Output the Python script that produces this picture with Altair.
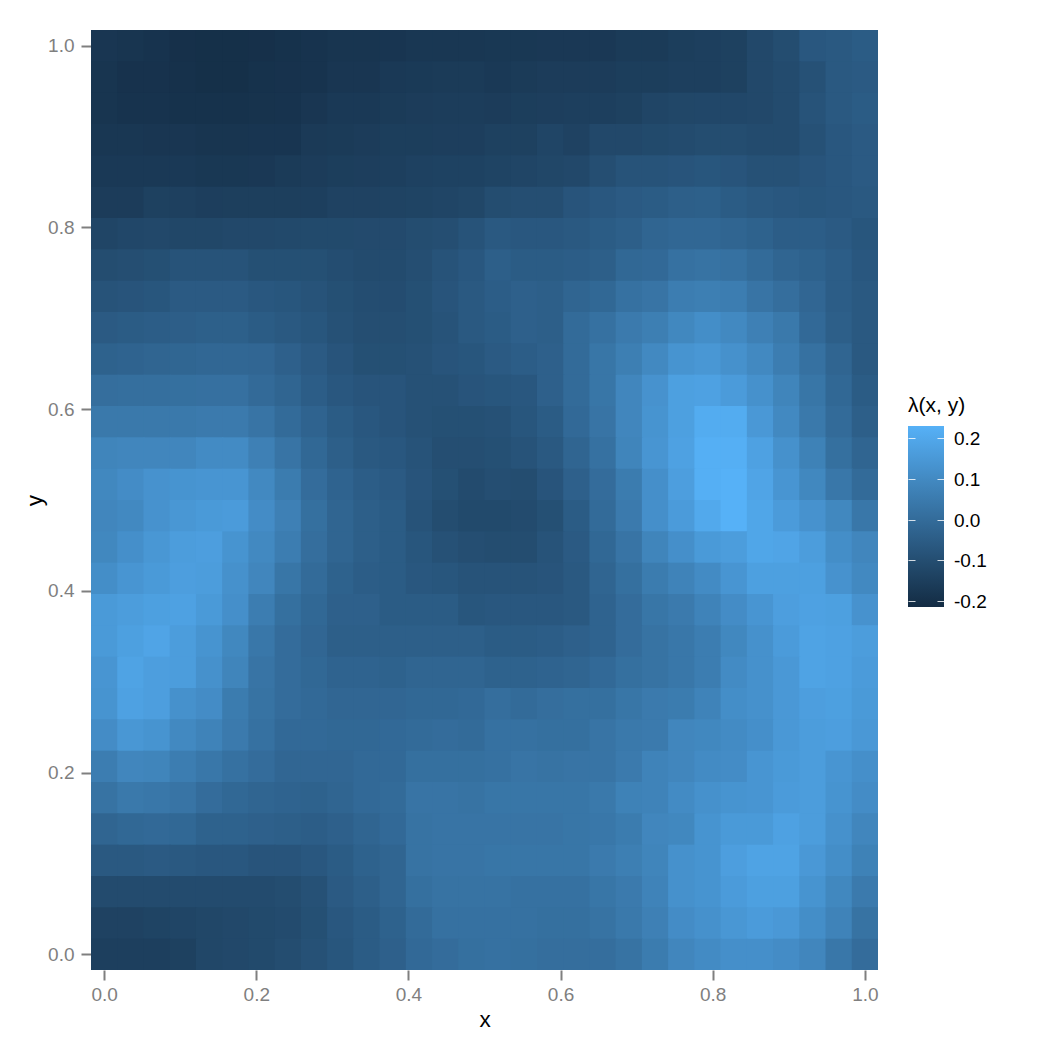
import altair as alt
import pandas as pd

# rows run from y=1 (top) to y=0 (bottom); columns from x=0 to x=1
row_00 = [-.175,-.18,-.185,-.195,-.197,-.197,-.195,-.19,-.185,-.18,-.18,-.178,-.172,-.172,-.172,-.17,-.17,-.168,-.168,-.168,-.16,-.16,-.15,-.145,-.14,-.115,-.1,-.065,-.06,-.05]
row_01 = [-.18,-.188,-.188,-.192,-.197,-.197,-.19,-.188,-.185,-.175,-.175,-.165,-.163,-.16,-.16,-.165,-.16,-.155,-.155,-.155,-.15,-.15,-.145,-.145,-.14,-.115,-.105,-.085,-.06,-.055]
row_02 = [-.18,-.185,-.185,-.19,-.19,-.19,-.187,-.185,-.175,-.165,-.165,-.16,-.155,-.153,-.153,-.155,-.15,-.148,-.145,-.145,-.14,-.125,-.12,-.118,-.118,-.115,-.105,-.08,-.06,-.05]
row_03 = [-.172,-.172,-.175,-.175,-.18,-.18,-.178,-.178,-.162,-.16,-.155,-.15,-.15,-.148,-.148,-.14,-.14,-.125,-.135,-.115,-.115,-.11,-.105,-.1,-.1,-.105,-.105,-.085,-.065,-.055]
row_04 = [-.165,-.165,-.165,-.165,-.17,-.17,-.168,-.16,-.155,-.15,-.148,-.146,-.138,-.136,-.136,-.13,-.125,-.12,-.115,-.095,-.08,-.08,-.075,-.07,-.075,-.085,-.085,-.075,-.065,-.055]
row_05 = [-.155,-.155,-.14,-.142,-.148,-.147,-.147,-.147,-.145,-.135,-.135,-.133,-.13,-.125,-.12,-.1,-.095,-.095,-.075,-.065,-.055,-.05,-.04,-.038,-.05,-.06,-.065,-.07,-.065,-.06]
row_06 = [-.125,-.118,-.115,-.12,-.12,-.115,-.115,-.113,-.11,-.11,-.108,-.108,-.1,-.095,-.08,-.06,-.065,-.065,-.06,-.05,-.04,-.02,-.012,-.012,-.02,-.03,-.045,-.045,-.055,-.07]
row_07 = [-.1,-.095,-.09,-.08,-.08,-.08,-.09,-.09,-.09,-.098,-.105,-.105,-.095,-.08,-.065,-.04,-.05,-.05,-.045,-.04,-.01,-.005,.02,.025,.02,.0,-.02,-.03,-.045,-.065]
row_08 = [-.08,-.075,-.07,-.055,-.055,-.055,-.065,-.07,-.08,-.09,-.098,-.102,-.09,-.075,-.06,-.045,-.035,-.04,-.02,-.01,.02,.03,.06,.065,.06,.03,.01,-.015,-.045,-.06]
row_09 = [-.055,-.05,-.045,-.042,-.038,-.038,-.05,-.06,-.07,-.085,-.095,-.095,-.09,-.08,-.06,-.05,-.035,-.04,.0,.02,.05,.065,.095,.115,.1,.07,.045,-.005,-.04,-.06]
row_10 = [-.03,-.025,-.02,-.018,-.012,-.012,-.015,-.035,-.055,-.075,-.09,-.09,-.085,-.075,-.07,-.055,-.045,-.035,.0,.035,.065,.1,.135,.145,.125,.1,.06,.02,-.02,-.06]
row_11 = [.01,.012,.012,.015,.018,.018,-.002,-.02,-.045,-.065,-.075,-.075,-.085,-.085,-.075,-.07,-.065,-.035,.0,.035,.09,.13,.175,.18,.16,.125,.085,.035,-.01,-.05]
row_12 = [.045,.045,.045,.045,.05,.05,.03,.0,-.025,-.05,-.065,-.075,-.085,-.09,-.09,-.085,-.07,-.05,-.005,.03,.09,.135,.175,.215,.215,.15,.1,.045,.0,-.04]
row_13 = [.085,.09,.09,.09,.105,.105,.07,.03,-.01,-.04,-.06,-.065,-.08,-.095,-.095,-.09,-.08,-.06,-.02,.02,.085,.14,.18,.225,.225,.18,.125,.075,.015,-.02]
row_14 = [.095,.11,.13,.135,.14,.14,.1,.055,.005,-.025,-.045,-.055,-.075,-.09,-.105,-.095,-.1,-.075,-.035,.005,.055,.12,.17,.225,.232,.19,.14,.095,.04,.0]
row_15 = [.09,.1,.13,.145,.155,.16,.11,.07,.015,-.02,-.04,-.05,-.08,-.1,-.11,-.11,-.105,-.09,-.05,.0,.05,.12,.16,.205,.232,.195,.16,.13,.095,.04]
row_16 = [.095,.12,.145,.165,.17,.135,.1,.06,.01,-.02,-.04,-.05,-.07,-.085,-.095,-.1,-.1,-.08,-.055,-.01,.03,.085,.12,.155,.165,.195,.19,.165,.115,.09]
row_17 = [.115,.14,.155,.17,.165,.125,.09,.035,.0,-.03,-.045,-.05,-.065,-.07,-.08,-.08,-.08,-.075,-.06,-.02,.015,.055,.08,.105,.14,.175,.175,.175,.13,.1]
row_18 = [.155,.165,.175,.18,.155,.12,.06,.015,-.01,-.035,-.035,-.05,-.05,-.05,-.07,-.065,-.065,-.065,-.06,-.025,.005,.035,.05,.08,.11,.14,.17,.18,.175,.13]
row_19 = [.155,.175,.19,.165,.135,.095,.04,.005,-.015,-.04,-.04,-.04,-.04,-.04,-.04,-.05,-.05,-.045,-.035,-.025,.005,.025,.04,.06,.095,.125,.16,.185,.18,.165]
row_20 = [.14,.185,.17,.165,.125,.085,.03,.005,-.01,-.025,-.025,-.03,-.02,-.02,-.02,-.03,-.03,-.025,-.02,-.005,.015,.025,.04,.06,.105,.125,.15,.185,.18,.16]
row_21 = [.135,.18,.17,.125,.11,.055,.025,.005,-.005,-.015,-.015,-.015,-.01,-.01,-.005,.01,.0,.01,.015,.015,.035,.05,.055,.08,.115,.125,.15,.17,.175,.155]
row_22 = [.11,.145,.135,.1,.08,.05,.02,-.005,-.005,-.01,-.01,-.005,.0,.005,.0,.02,.02,.015,.015,.03,.045,.05,.09,.095,.105,.12,.15,.165,.17,.15]
row_23 = [.06,.09,.085,.06,.04,.02,.005,-.015,-.015,-.015,-.005,-.005,.015,.015,.015,.02,.03,.025,.03,.03,.05,.08,.09,.105,.11,.14,.155,.165,.14,.12]
row_24 = [.025,.045,.04,.03,.005,-.01,-.02,-.025,-.03,-.02,-.005,.0,.03,.03,.025,.035,.035,.035,.035,.045,.075,.08,.105,.125,.135,.14,.16,.165,.135,.11]
row_25 = [-.02,-.01,-.005,-.01,-.03,-.03,-.035,-.04,-.045,-.035,-.02,-.005,.025,.03,.03,.03,.03,.03,.035,.04,.055,.09,.095,.135,.155,.155,.18,.165,.125,.09]
row_26 = [-.06,-.06,-.055,-.06,-.065,-.065,-.075,-.075,-.065,-.05,-.03,-.02,.025,.03,.03,.035,.035,.035,.035,.05,.065,.085,.125,.135,.17,.185,.185,.15,.115,.075]
row_27 = [-.105,-.105,-.105,-.105,-.105,-.105,-.105,-.1,-.085,-.055,-.04,-.02,.015,.025,.025,.025,.02,.02,.02,.035,.05,.08,.125,.135,.16,.175,.175,.135,.095,.05]
row_28 = [-.135,-.135,-.13,-.125,-.12,-.115,-.11,-.105,-.09,-.065,-.05,-.03,.0,.02,.02,.02,.02,.015,.015,.025,.045,.07,.11,.125,.145,.16,.15,.115,.08,.025]
row_29 = [-.145,-.145,-.145,-.14,-.12,-.115,-.11,-.1,-.085,-.07,-.05,-.035,-.005,.005,.015,.02,.015,.01,.01,.01,.025,.055,.09,.105,.12,.12,.11,.09,.04,.005]

rows = [row_00,row_01,row_02,row_03,row_04,row_05,row_06,row_07,row_08,row_09,
        row_10,row_11,row_12,row_13,row_14,row_15,row_16,row_17,row_18,row_19,
        row_20,row_21,row_22,row_23,row_24,row_25,row_26,row_27,row_28,row_29]
legend_values = [-0.2, -0.1, 0.0, 0.1, 0.2]
n = 30
half = 0.5 / (n - 1)
seam = 0.0016  # cells overlap by just over a pixel so that no antialiased seam shows
records = []
for r, row in enumerate(rows):
    yc = 1 - r / (n - 1)
    for c, v in enumerate(row):
        xc = c / (n - 1)
        records.append({"x0": xc - half, "x1": xc + half + seam,
                        "y0": yc - half - seam, "y1": yc + half, "v": v})
df = pd.DataFrame(records)
ticks = pd.DataFrame({"t": legend_values})

GRAY = "#7F7F7F"
FONT = "Liberation Sans"
dom = [-half, 1 + half]
color_scale = alt.Scale(domain=[-0.212, 0.232], range=["#132B43", "#56B1F7"],
                        interpolate="rgb", nice=False)
color = alt.Color("v:Q", scale=color_scale,
    legend=alt.Legend(title="λ(x, y)", orient="none", legendX=817, legendY=365,
                      values=legend_values, gradientLength=181, gradientThickness=36,
                      gradientStrokeWidth=0, format=".1f", labelOverlap=False, type="gradient",
                      labelExpr="replace(datum.label, '−', '-')",
                      labelFontSize=19, labelColor="#000000", labelFont=FONT, labelOffset=10,
                      titleFontSize=21, titleFontWeight="normal", titleColor="#000000",
                      titleFont=FONT, titlePadding=10))
axis = dict(grid=False, domain=False, tickColor=GRAY, tickSize=10, tickWidth=2,
            labelColor=GRAY, labelFontSize=19, labelFont=FONT, titleColor="#000000",
            titleFontSize=22.5, titleFontWeight="normal", titleFont=FONT,
            format=".1f", values=[0, .2, .4, .6, .8, 1.0])

heat = alt.Chart(df).mark_rect(clip=True).encode(
    x=alt.X("x0:Q", scale=alt.Scale(domain=dom, nice=False, zero=False),
            axis=alt.Axis(title="x", labelPadding=5, titlePadding=4, **axis)),
    x2="x1:Q",
    y=alt.Y("y0:Q", scale=alt.Scale(domain=dom, nice=False, zero=False),
            axis=alt.Axis(title="y", labelPadding=7, titlePadding=1, orient="left", **axis)),
    y2="y1:Q",
    color=color,
)

def legend_ticks(orient, offset):
    # the colourbar's white ticks: an axis with a zindex draws above the legend
    return alt.Chart(ticks).mark_rule(opacity=0).encode(
        x=alt.value(0),
        y=alt.Y("t:Q",
                scale=alt.Scale(domain=[-0.212, 0.232], range=[576, 395], nice=False, zero=False),
                axis=alt.Axis(title=None, orient=orient, offset=offset, labels=False, domain=False,
                              grid=False, values=legend_values, tickColor="#FFFFFF", tickOpacity=0.8,
                              tickSize=7, tickWidth=1, zindex=2)),
    )

chart = alt.layer(heat, legend_ticks("left", -824), legend_ticks("right", 59)).resolve_scale(
    y="independent"
).properties(
    width=787, height=940,
    padding={"left": 83, "top": 22, "right": 140, "bottom": 70},
    autosize=alt.AutoSizeParams(type="none"),
    background="#FFFFFF",
).configure_view(stroke=None)

chart.save("out.html", embed_options={"renderer": "svg", "actions": False})
